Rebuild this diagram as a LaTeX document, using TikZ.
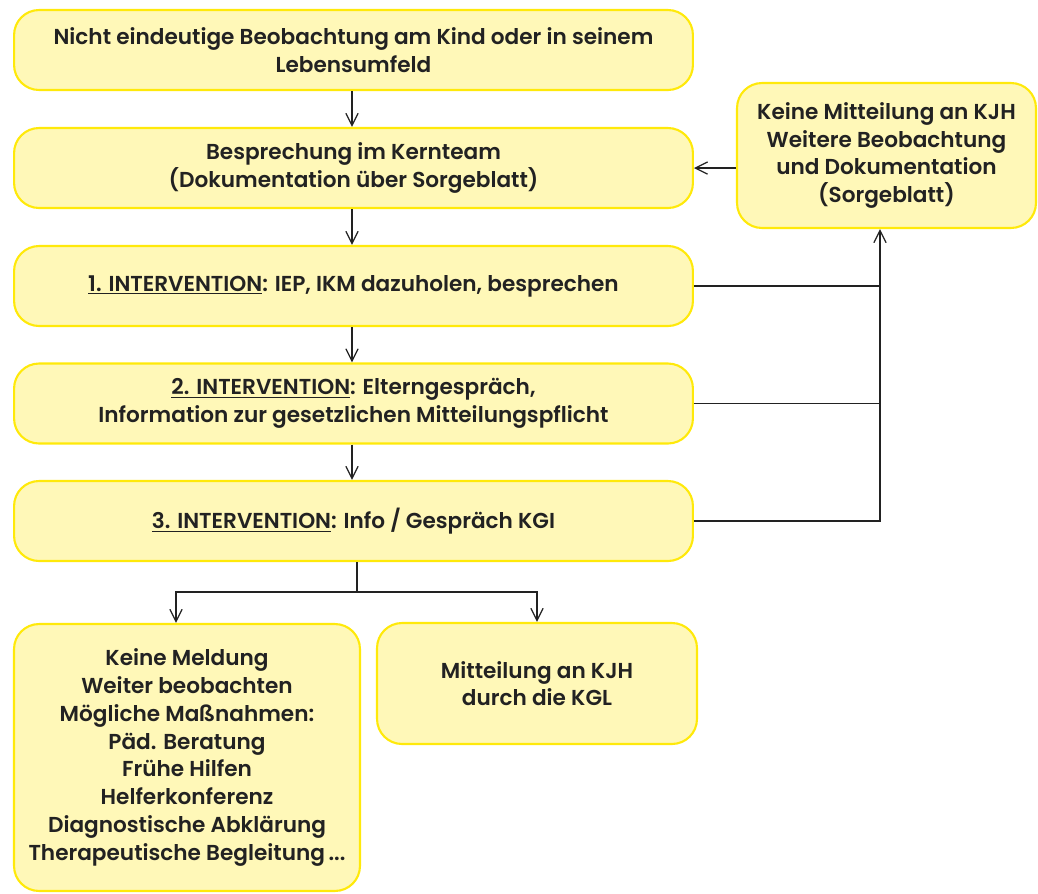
\documentclass[tikz,border=0pt]{standalone}
\usepackage{fontspec}
\setmainfont{Poppins}[BoldFont={Poppins SemiBold}]
\usetikzlibrary{arrows.meta}
\definecolor{boxfill}{HTML}{FFF8B8}
\definecolor{boxline}{HTML}{FFE90A}
\definecolor{ink}{HTML}{222222}
\tikzset{
	flowbox/.style={draw=boxline, fill=boxfill, line width=1.2pt, rounded corners=0.5cm, align=center, text=ink, inner sep=0pt, font=\fontsize{12.3}{15.8}\selectfont\bfseries},
	flowline/.style={draw=ink, line width=0.7pt},
	flowarrow/.style={flowline, -{Straight Barb[length=7pt,width=7pt]}}
}

\begin{document}
\begin{tikzpicture}[x=0.02cm, y=-0.02cm]
		%%%%% START %%%%%
		\useasboundingbox (0, 0) rectangle (1038, 893);
		
		\node[flowbox, minimum width=13.58cm, minimum height=1.6cm] (beob) at (353.5, 50) {Nicht eindeutige Beobachtung am Kind oder in seinem\\Lebensumfeld};
		\node[flowbox, minimum width=13.58cm, minimum height=1.6cm] (kern) at (353.5, 168) {Besprechung im Kernteam\\(Dokumentation über Sorgeblatt)};
		\node[flowbox, minimum width=13.58cm, minimum height=1.6cm] (int1) at (353.5, 286) {\underline{1. INTERVENTION}: IEP, IKM dazuholen, besprechen};
		\node[flowbox, minimum width=13.58cm, minimum height=1.6cm] (int2) at (353.5, 403.5) {\underline{2. INTERVENTION}: Elterngespräch,\\Information zur gesetzlichen Mitteilungspflicht};
		\node[flowbox, minimum width=13.58cm, minimum height=1.6cm] (int3) at (353.5, 521) {\underline{3. INTERVENTION}: Info / Gespräch KGI};
		
		\node[flowbox, minimum width=5.98cm, minimum height=2.9cm] (keine) at (886.5, 155.5) {Keine Mitteilung an KJH\\Weitere Beobachtung\\und Dokumentation\\(Sorgeblatt)};
		
		\node[flowbox, minimum width=6.92cm, minimum height=5.34cm] (meldung) at (187, 757.5) {Keine Meldung\\Weiter beobachten\\Mögliche Maßnahmen:\\Päd. Beratung\\Frühe Hilfen\\Helferkonferenz\\Diagnostische Abklärung\\Therapeutische Begleitung\,...};
		\node[flowbox, minimum width=6.4cm, minimum height=2.42cm] (mitteil) at (537, 683.5) {Mitteilung an KJH\\durch die KGL};
		
		% main chain
		\draw[flowarrow] (beob.south -| 352, 0) -- (kern.north -| 352, 0);
		\draw[flowarrow] (kern.south -| 352, 0) -- (int1.north -| 352, 0);
		\draw[flowarrow] (int1.south -| 352, 0) -- (int2.north -| 352, 0);
		\draw[flowarrow] (int2.south -| 352, 0) -- (int3.north -| 352, 0);
		
		% feedback to the right
		\coordinate (fb) at (880, 521);
		\draw[flowline] (int1.east) -- (int1.east -| fb);
		\draw[flowline] (int2.east) -- (int2.east -| fb);
		\draw[flowarrow] (int3.east) -- (fb) -- (fb |- keine.south);
		\draw[flowarrow] (keine.west |- kern.east) -- (kern.east);
		
		% split below
		\coordinate (split) at (357, 592);
		\coordinate (splitl) at (176, 592);
		\draw[flowline] (int3.south -| split) -- (split);
		\draw[flowarrow] (split) -- (splitl) -- (splitl |- meldung.north);
		\draw[flowarrow] (split) -- (split -| mitteil) -- (mitteil.north);
		
		%%%%% END %%%%%
	\end{tikzpicture}
\end{document}
